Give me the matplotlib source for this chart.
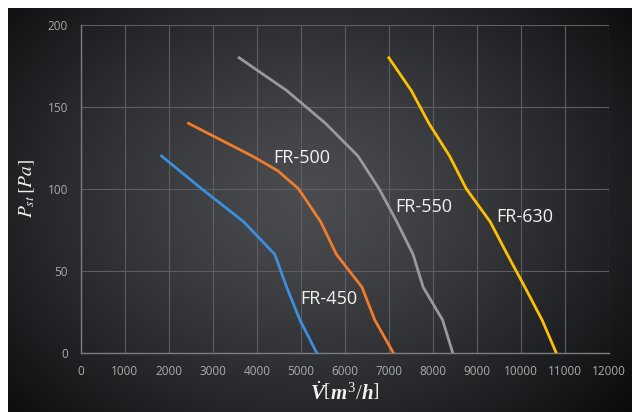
import numpy as np
import matplotlib
matplotlib.use('Agg')
import matplotlib.pyplot as plt

plt.rcParams['mathtext.fontset'] = 'custom'
plt.rcParams['mathtext.it'] = 'Liberation Serif:italic:bold'
plt.rcParams['mathtext.rm'] = 'Liberation Serif'
plt.rcParams['mathtext.bf'] = 'Liberation Serif:italic:bold'

# fan curves: flow [m3/h] vs static pressure [Pa]
fr450_x = [1840, 2750, 3700, 4410, 4680, 4980, 5360]
fr450_y = [120, 100, 80, 60, 40, 20, 0]
fr500_x = [2450, 3900, 4480, 4950, 5450, 5810, 6390, 6680, 7100]
fr500_y = [140, 120, 111, 100, 80, 60, 40, 20, 0]
fr550_x = [3600, 4680, 5560, 6300, 6780, 7180, 7550, 7780, 8220, 8450]
fr550_y = [180, 160, 140, 120, 100, 80, 60, 40, 20, 0]
fr630_x = [7000, 7510, 7910, 8380, 8760, 9300, 9690, 10090, 10480, 10800]
fr630_y = [180, 160, 140, 120, 100, 80, 60, 40, 20, 0]

names = ['FR-450', 'FR-500', 'FR-550', 'FR-630']
colors = ['#3d8fdc', '#f07c2c', '#9a9a9a', '#ffc000']
label_pos = [(4990, 33), (4380, 119), (7140, 89), (9430, 83)]

fig = plt.figure(figsize=(6.32, 4.12), dpi=100)
fig.patch.set_facecolor('white')

# dark panel with radial gradient
bg = fig.add_axes([8/632, 0, 1 - 8/632, 1 - 8/412])
bg.set_axis_off()
yy, xx = np.mgrid[0:404, 0:624]
r = np.sqrt(((xx - 300) / 420.0)**2 + ((yy - 190) / 330.0)**2)
r = np.clip(r, 0, 1)
c0 = np.array([0x4a, 0x4c, 0x50]) / 255.0
c1 = np.array([0x08, 0x0a, 0x0c]) / 255.0
img = c0[None, None, :] * (1 - r[..., None]**1.3) + c1[None, None, :] * r[..., None]**1.3
bg.imshow(img, aspect='auto', interpolation='bilinear')

ax = fig.add_axes([80.6/632, 1 - 352.7/412, (609 - 80.6)/632, (352.7 - 25)/412])
ax.patch.set_alpha(0)

for xs, ys, c in zip([fr450_x, fr500_x, fr550_x, fr630_x],
                     [fr450_y, fr500_y, fr550_y, fr630_y], colors):
    ax.plot(xs, ys, color=c, lw=2.0, solid_joinstyle='round', zorder=3)

for n, (lx, ly) in zip(names, label_pos):
    ax.text(lx, ly, n, color='#f2f2f2', fontsize=13, family='Open Sans',
            va='center', ha='left', zorder=4)

ax.set_xlim(0, 12000)
ax.set_ylim(0, 200)
ax.set_xticks(range(0, 12001, 1000))
ax.set_yticks(range(0, 201, 50))
ax.grid(True, color='#5c5e62', lw=0.8)
ax.set_axisbelow(True)
for s in ['top', 'right']:
    ax.spines[s].set_visible(False)
for s in ['left', 'bottom']:
    ax.spines[s].set_color('#7a7c80')
    ax.spines[s].set_linewidth(1.0)
ax.tick_params(length=0, colors='#ababab', labelsize=8.5, pad=9)
for t in ax.get_xticklabels() + ax.get_yticklabels():
    t.set_family('Open Sans')

ax.set_xlabel(r'$\dot{V}\left[m^3/h\right]$', color='#f0f0f0', fontsize=15,
              labelpad=2, math_fontfamily='custom')
ax.set_ylabel(r'$P_{st}\,[Pa]$', color='#f0f0f0', fontsize=14,
              labelpad=8, math_fontfamily='stix')

fig.savefig('out.png', dpi=100)
